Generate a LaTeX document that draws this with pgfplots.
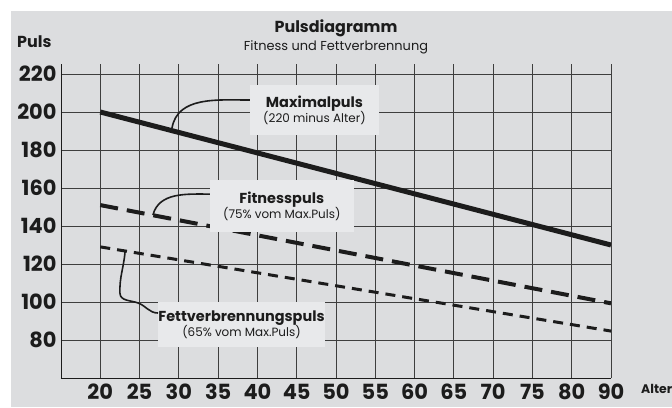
\documentclass[border=0pt]{standalone}
\usepackage{pgfplots}
\pgfplotsset{compat=1.18}
\usepackage{fontspec}
\setmainfont{Poppins}
\definecolor{bg}{RGB}{220,221,223}
\definecolor{boxbg}{RGB}{232,233,235}
\definecolor{ink}{RGB}{28,28,28}
\begin{document}
\begin{tikzpicture}[x=1bp,y=1bp]
\useasboundingbox (-61,-29) rectangle (611,378);
\fill[bg] (-50,-29) rectangle (611,367);
\begin{axis}[
  at={(0,0)}, anchor=south west,
  scale only axis, width=550bp, height=313.5bp,
  xmin=15, xmax=85, ymin=60, ymax=225,
  axis x line=bottom, axis y line=left,
  axis line style={-, ink, line width=0.9bp},
  xtick={20,25,...,85},
  xticklabels={20,25,30,35,40,45,50,55,60,65,70,75,80,90},
  ytick={80,100,...,220},
  major tick length=0pt,
  grid=major,
  major grid style={ink!85, line width=0.8bp},
  /pgf/number format/assume math mode=true,
  tick label style={font=\fontsize{21}{21}\selectfont\bfseries, text=ink},
  xticklabel style={inner sep=0pt, yshift=-6bp},
  yticklabel style={xshift=-1bp},
]
\addplot[ink, line width=5bp, line cap=butt] coordinates {(20,200) (85,130)};
\addplot[ink, line width=4bp, dash pattern=on 18bp off 9bp] coordinates {(20,151) (85,99.3)};
\addplot[ink, line width=3bp, dash pattern=on 10bp off 7bp] coordinates {(20,129) (85,84.7)};

\node[fill=boxbg, minimum width=129bp, minimum height=50bp, inner sep=0pt, align=center, text=ink]
  at (axis cs:47.26,201) {{\fontsize{14.5}{17}\selectfont\bfseries Maximalpuls}\\[-1bp]{\fontsize{12}{14}\selectfont (220 minus Alter)}};
\node[fill=boxbg, minimum width=144bp, minimum height=52bp, inner sep=0pt, align=center, text=ink]
  at (axis cs:43.1,150.5) {{\fontsize{14.5}{17}\selectfont\bfseries Fitnesspuls}\\[-1bp]{\fontsize{12}{14}\selectfont (75\% vom Max.Puls)}};
\node[fill=boxbg, minimum width=167bp, minimum height=45bp, inner sep=0pt, align=center, text=ink]
  at (axis cs:37.97,88.2) {{\fontsize{14.5}{17}\selectfont\bfseries Fettverbrennungspuls}\\[-1bp]{\fontsize{12}{14}\selectfont (65\% vom Max.Puls)}};

\draw[ink, line width=1.6bp] (axis cs:29.13,191.6) to[out=80,in=180] (axis cs:39.05,206.3);
\draw[ink, line width=1.6bp] (axis cs:26.7,145.8) to[out=75,in=180] (axis cs:33.96,156.8);
\draw[ink, line width=1.6bp] (axis cs:23.15,126.3) to[out=-95,in=92] (axis cs:22.5,104.7) to[out=-88,in=160] (axis cs:24.8,99.5) to[out=-20,in=180] (axis cs:27.35,94.2);
\end{axis}
\node[text=ink, font=\fontsize{16}{16}\selectfont\bfseries] at (275,350) {Pulsdiagramm};
\node[text=ink, font=\fontsize{13}{13}\selectfont] at (275,331) {Fitness und Fettverbrennung};
\node[text=ink, font=\fontsize{16}{16}\selectfont\bfseries, anchor=west, inner sep=0pt] at (-44,336) {Puls};
\node[text=ink, font=\fontsize{12.5}{12.5}\selectfont\bfseries, anchor=base west, inner sep=0pt] at (580,-15) {Alter};
\end{tikzpicture}
\end{document}
